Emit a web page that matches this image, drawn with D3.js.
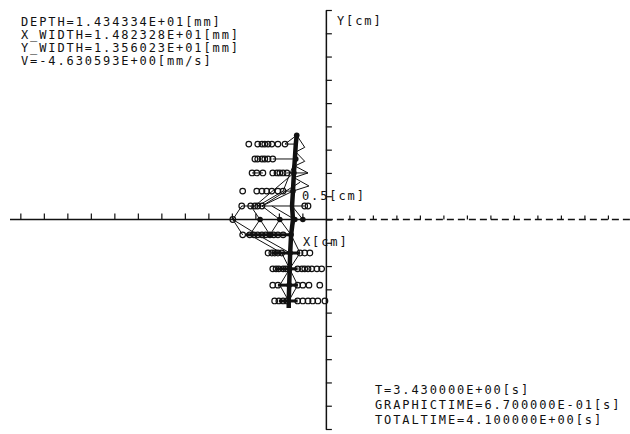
<!DOCTYPE html>
<html>
<head>
<meta charset="utf-8">
<script src="https://cdn.jsdelivr.net/npm/d3@7"></script>
<style>
body { margin: 0; background: #fff; }
text { font-family: "DejaVu Sans Mono", monospace; font-size: 12px; letter-spacing: 1.9px; fill: #111; }
</style>
</head>
<body>
<svg id="chart" width="630" height="434"></svg>
<script>
// header / footer texts
var infoTop = ["DEPTH=1.434334E+01[mm]", "X_WIDTH=1.482328E+01[mm]", "Y_WIDTH=1.356023E+01[mm]", "V=-4.630593E+00[mm/s]"];
var infoBottom = ["T=3.430000E+00[s]", "GRAPHICTIME=6.700000E-01[s]", "TOTALTIME=4.100000E+00[s]"];

// axis ticks [cm]
var xTicksLeft = [-6.5, -6, -5.5, -5, -4.5, -4, -3.5, -3, -2.5, -2, -1.5, -1, -0.5];
var xTicksRight = [0.5, 1, 1.5, 2, 2.5, 3, 3.5, 4, 4.5, 5, 5.5, 6, 6.5];
var yTicks = [-4.5, -4, -3.5, -3, -2.5, -2, -1.5, -1, -0.5, 0, 0.5, 1, 1.5, 2, 2.5, 3, 3.5, 4, 4.5];

// particle rows (open circles) [cm]
var rowY = [1.62, 1.30, 1.00, 0.61, 0.29, 0.00, -0.33, -0.72, -1.06, -1.41, -1.75];
var rowX = [
  [-1.64, -1.45, -1.36, -1.30, -1.23, -1.15, -1.02, -0.87],
  [-1.51, -1.45, -1.36, -1.30, -1.23, -1.13],
  [-1.57, -1.47, -1.34, -1.13, -1.04, -0.98, -0.91, -0.83],
  [-1.77, -1.47, -1.36, -1.26, -1.15, -1.02, -0.91],
  [-1.79, -1.60, -1.51, -1.45, -1.36, -0.45, -0.38],
  [-1.98],
  [-1.77, -1.62, -1.53, -1.45, -1.36, -1.28, -1.19, -1.11, -1.02, -0.91],
  [-1.23, -1.15, -1.09, -1.02, -0.94, -0.55, -0.45, -0.34],
  [-1.13, -1.06, -1.00, -0.91, -0.85, -0.60, -0.51, -0.45, -0.38, -0.30, -0.19, -0.09],
  [-1.13, -1.02, -0.60, -0.49, -0.36, -0.13],
  [-1.09, -1.00, -0.91, -0.83, -0.60, -0.49, -0.38, -0.28, -0.17, -0.02]
];

// mesh nodes (filled) [cm]
var nodeX = [-1.40, -0.98, -0.66, -0.49, -0.64, -0.68, -0.70, -0.74, -0.76, -0.77, -0.78, -1.19, -0.62];
var nodeY = [0.00, 0.00, 0.00, 0.00, 1.30, 1.00, 0.61, -0.33, -0.72, -1.06, -1.41, -0.33, 1.81];

// central column [cm]
var colX = [-0.62, -0.64, -0.66, -0.68, -0.70, -0.72, -0.70, -0.74, -0.76, -0.77, -0.78, -0.79, -0.79];
var colY = [1.81, 1.62, 1.30, 1.00, 0.61, 0.29, 0.00, -0.33, -0.72, -1.06, -1.41, -1.75, -1.90];

// mesh edges [cm]
var meshLines = [
  [[-0.87, 1.62], [-0.62, 1.81], [-0.45, 1.55], [-0.64, 1.45], [-0.45, 1.25], [-0.66, 1.15], [-0.38, 1.00], [-0.68, 0.90], [-0.36, 0.72], [-0.70, 0.61]],
  [[-0.87, 1.62], [-0.64, 1.62]],
  [[-1.13, 1.30], [-0.66, 1.30]],
  [[-1.57, 1.00], [-1.34, 1.00]],
  [[-0.83, 1.00], [-0.38, 1.00]],
  [[-0.91, 0.61], [-0.64, 1.30]],
  [[-1.51, 0.29], [-0.68, 1.00]],
  [[-1.45, 0.29], [-0.91, 0.61], [-0.70, 0.61]],
  [[-1.36, 0.29], [-0.70, 0.61]],
  [[-1.36, 0.29], [-0.55, 0.80]],
  [[-1.79, 0.29], [-0.45, 0.29]],
  [[-1.79, 0.29], [-1.98, 0.00], [-1.77, -0.33]],
  [[-1.98, 0.00], [-0.49, 0.00]],
  [[-1.60, 0.29], [-1.40, 0.00], [-1.62, -0.33]],
  [[-1.40, 0.00], [-1.19, -0.33], [-0.98, 0.00], [-0.74, -0.33], [-0.66, 0.00], [-0.49, 0.00], [-0.72, 0.29]],
  [[-1.36, 0.29], [-0.98, 0.00]],
  [[-1.15, 0.29], [-0.66, 0.00]],
  [[-1.98, 0.00], [-1.45, -0.33]],
  [[-1.62, -0.33], [-0.94, -0.72], [-0.76, -0.72]],
  [[-1.45, -0.33], [-0.76, -0.72]],
  [[-0.74, -0.33], [-0.55, -0.72], [-0.77, -1.06], [-0.60, -1.41], [-0.79, -1.75]],
  [[-0.94, -0.72], [-0.77, -1.06], [-0.98, -1.41], [-0.79, -1.75]]
];
var rowBands = [
  [[-1.70, -0.33], [-0.74, -0.33]],
  [[-1.15, -0.72], [-0.55, -0.72]],
  [[-1.06, -1.06], [-0.60, -1.06]],
  [[-1.02, -1.41], [-0.60, -1.41]],
  [[-1.00, -1.75], [-0.60, -1.75]]
];

var svg = d3.select("#chart");

var x = d3.scaleLinear().domain([-6.72, 6.47]).range([10, 630]);
var y = d3.scaleLinear().domain([-4.5, 4.5]).range([429, 10]);

var line = d3.line().x(function (d) { return x(d[0]); }).y(function (d) { return y(d[1]); });

// x axis: solid left, dashed right
svg.append("line")
  .attr("x1", x(-6.72)).attr("x2", x(0)).attr("y1", y(0)).attr("y2", y(0))
  .attr("stroke", "#111").attr("stroke-width", 1.3);
svg.append("line")
  .attr("x1", x(0)).attr("x2", 630).attr("y1", y(0)).attr("y2", y(0))
  .attr("stroke", "#111").attr("stroke-width", 1.3).attr("stroke-dasharray", "7,4");

var gxl = svg.append("g").attr("transform", "translate(0," + y(0) + ")")
  .call(d3.axisTop(x).tickValues(xTicksLeft).tickSize(6).tickFormat(""));
var gxr = svg.append("g").attr("transform", "translate(0," + y(0) + ")")
  .call(d3.axisTop(x).tickValues(xTicksRight).tickSize(4).tickFormat(""));
var gy = svg.append("g").attr("transform", "translate(" + x(0) + ",0)")
  .call(d3.axisRight(y).tickValues(yTicks).tickSize(6).tickSizeOuter(0).tickFormat(""));

[gxl, gxr].forEach(function (g) { g.select(".domain").remove(); });
svg.selectAll(".tick line").attr("stroke", "#111").attr("stroke-width", 1.2);
gy.select(".domain").attr("stroke", "#111").attr("stroke-width", 1.5);

// mesh
svg.append("g").selectAll("path").data(meshLines).enter().append("path")
  .attr("d", line).attr("fill", "none").attr("stroke", "#111").attr("stroke-width", 1);
svg.append("g").selectAll("path").data(rowBands).enter().append("path")
  .attr("d", line).attr("fill", "none").attr("stroke", "#111").attr("stroke-width", 3);

svg.append("path")
  .attr("d", line(colX.map(function (v, i) { return [v, colY[i]]; })))
  .attr("fill", "none").attr("stroke", "#111").attr("stroke-width", 4.5);

svg.append("g").selectAll("circle").data(nodeX).enter().append("circle")
  .attr("cx", function (d) { return x(d); })
  .attr("cy", function (d, i) { return y(nodeY[i]); })
  .attr("r", 2.8).attr("fill", "#111");

// particles
var pts = [];
rowX.forEach(function (xs, i) { xs.forEach(function (v) { pts.push([v, rowY[i]]); }); });
svg.append("g").selectAll("circle").data(pts).enter().append("circle")
  .attr("cx", function (d) { return x(d[0]); })
  .attr("cy", function (d) { return y(d[1]); })
  .attr("r", 2.8).attr("fill", "none").attr("stroke", "#111").attr("stroke-width", 1.2);

// labels
svg.append("text").attr("x", 337).attr("y", 25).text("Y[cm]");
svg.append("text").attr("x", 302).attr("y", 200).text("0.5[cm]");
svg.append("text").attr("x", 303).attr("y", 246).text("X[cm]");

svg.append("g").selectAll("text").data(infoTop).enter().append("text")
  .attr("x", 21).attr("y", function (d, i) { return 26 + i * 13; })
  .text(function (d) { return d; });
svg.append("g").selectAll("text").data(infoBottom).enter().append("text")
  .attr("x", 375).attr("y", function (d, i) { return 394 + i * 15; })
  .text(function (d) { return d; });
</script>
</body>
</html>
